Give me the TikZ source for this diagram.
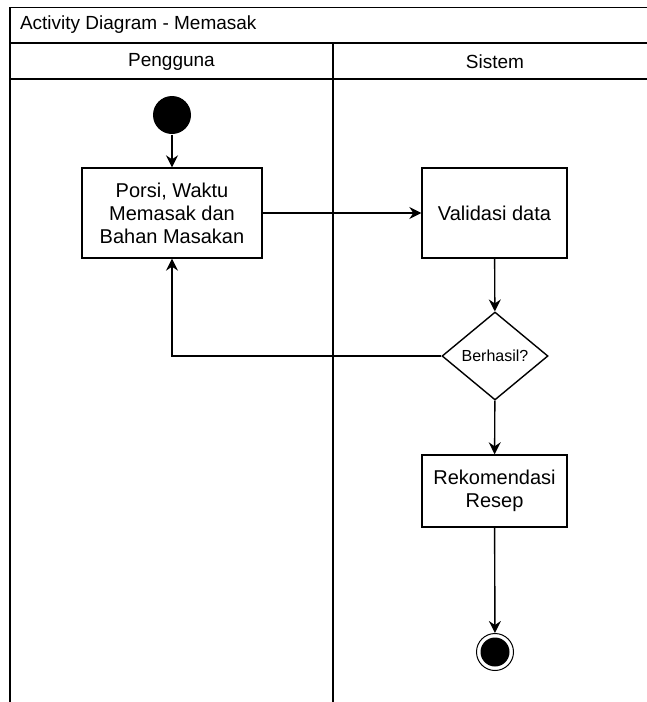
\documentclass[tikz,border=0pt]{standalone}
\usepackage{fontspec}
\setmainfont{Liberation Sans}
\usetikzlibrary{arrows.meta,shapes.geometric}
\begin{document}
\begin{tikzpicture}[x=1pt,y=-1pt,
  line width=1.4pt,
  flow/.style={-{Stealth[length=12pt,width=12pt,inset=4pt]}},
  act/.style={draw,rectangle,inner sep=2pt,align=center,font=\fontsize{20}{23}\selectfont},
  lanetext/.style={font=\fontsize{19}{22}\selectfont},
  decision/.style={draw,diamond,inner sep=0pt,minimum width=106pt,minimum height=88pt,font=\fontsize{16}{18}\selectfont}]
  \useasboundingbox (0,0) rectangle (646,702);
  % pool frame, title row and lane headers
  \draw (10,706) -- (10,7.5) -- (660,7.5);
  \draw (10,43) -- (660,43);
  \draw (10,79) -- (660,79);
  \draw (333,43) -- (333,706);
  \node[lanetext,anchor=west] (title) at (16,25) {Activity Diagram - Memasak};
  \node[lanetext] (lane1) at (171.5,62) {Pengguna};
  \node[lanetext] (lane2) at (495,62) {Sistem};
  % activity nodes
  \node[circle,fill=black,inner sep=0pt,minimum size=38pt] (start) at (172,115) {};
  \node[act,minimum width=180pt,minimum height=90pt] (input) at (172,213) {Porsi, Waktu\\Memasak dan\\Bahan Masakan};
  \node[act,minimum width=145pt,minimum height=90pt] (valid) at (494.5,213) {Validasi data};
  \node[decision] (dec) at (495,356) {Berhasil?};
  \node[act,minimum width=145pt,minimum height=72pt] (rek) at (494.5,491) {Rekomendasi\\Resep};
  \node[circle,draw,line width=1pt,inner sep=0pt,minimum size=37pt] (end) at (495,652) {};
  \fill (end.center) circle (14.5pt);
  % flows
  \draw[flow] (start) -- (input);
  \draw[flow] (input) -- (valid);
  \draw[flow] (valid) -- (dec);
  \draw[flow] (dec.west) -| (input.south);
  \draw[flow] (dec) -- (rek);
  \draw[flow] (rek) -- (end);
\end{tikzpicture}
\end{document}
